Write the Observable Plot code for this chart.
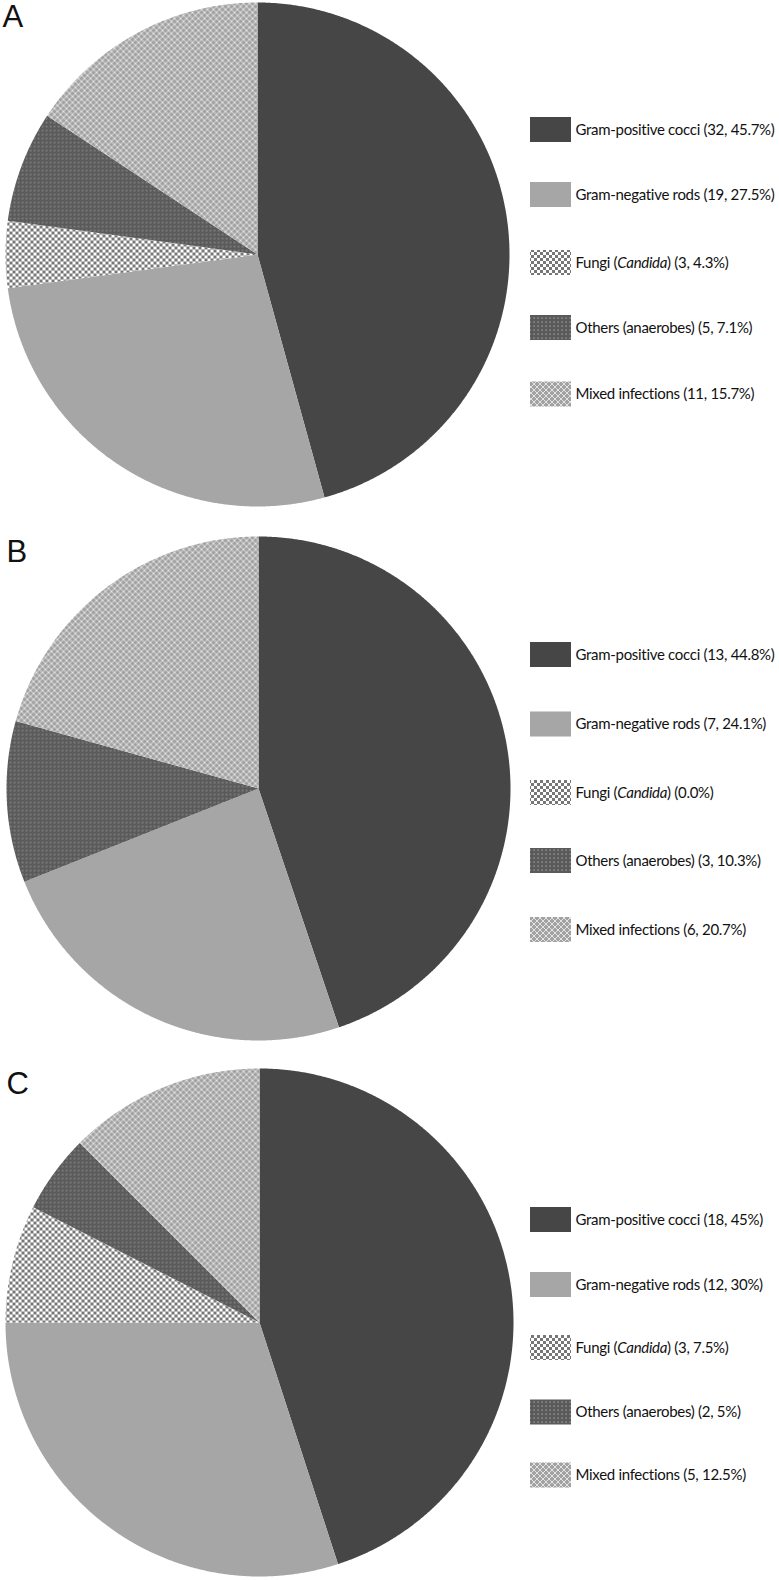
<!DOCTYPE html>
<html>
<head>
<meta charset="utf-8">
<script src="https://cdn.jsdelivr.net/npm/d3@7"></script>
<script src="https://cdn.jsdelivr.net/npm/@observablehq/plot@0.6"></script>
<style>
  html, body { margin: 0; padding: 0; background: #fff; }
  #chart svg { display: block; }
</style>
</head>
<body>
<svg width="0" height="0" style="position:absolute">
  <defs>
    <pattern id="p-fungi" width="6" height="6" patternUnits="userSpaceOnUse">
      <rect width="6" height="6" fill="#ffffff"/>
      <rect width="3" height="3" fill="#777777"/>
      <rect x="3" y="3" width="3" height="3" fill="#777777"/>
    </pattern>
    <pattern id="p-others" width="4" height="4" patternUnits="userSpaceOnUse">
      <rect width="4" height="4" fill="#5a5a5a"/>
      <rect x="1.5" y="1.5" width="1.2" height="1.2" fill="#b0b0b0"/>
    </pattern>
    <pattern id="p-mixed" width="6" height="6" patternUnits="userSpaceOnUse">
      <rect width="6" height="6" fill="#a2a2a2"/>
      <path d="M0,0L6,6M6,0L0,6" stroke="#f4f4f4" stroke-width="0.8"/>
    </pattern>
  </defs>
</svg>
<div id="chart"></div>
<script>
// ---- data ----
const categories = ["Gram-positive cocci", "Gram-negative rods", "Fungi (Candida)", "Others (anaerobes)", "Mixed infections"];
const panelNames = ["A", "B", "C"];
const countsA = [32, 19, 3, 5, 11];
const countsB = [13, 7, 0, 3, 6];
const countsC = [18, 12, 3, 2, 5];
const labelsA = ["(32, 45.7%)", "(19, 27.5%)", "(3, 4.3%)", "(5, 7.1%)", "(11, 15.7%)"];
const labelsB = ["(13, 44.8%)", "(7, 24.1%)", "(0.0%)", "(3, 10.3%)", "(6, 20.7%)"];
const labelsC = ["(18, 45%)", "(12, 30%)", "(3, 7.5%)", "(2, 5%)", "(5, 12.5%)"];

// ---- styles & layout ----
const fills = ["#464646", "#a6a6a6", "url(#p-fungi)", "url(#p-others)", "url(#p-mixed)"];
const layout = {
  A: {cx: 257, cy: 254, r: 252, lx: 2, ly: 17, rows: [129.5, 194.5, 262.5, 327.5, 394]},
  B: {cx: 258, cy: 788, r: 252, lx: 6, ly: 552, rows: [654.5, 724, 792.5, 860.5, 929.5]},
  C: {cx: 259, cy: 1322, r: 254, lx: 6, ly: 1084, rows: [1219.5, 1284.5, 1347.5, 1412, 1475]}
};
const W = 779, H = 1580;

const panels = [
  {name: "A", counts: countsA, labels: labelsA},
  {name: "B", counts: countsB, labels: labelsB},
  {name: "C", counts: countsC, labels: labelsC}
];

const pie = d3.pie().sort(null).value(d => d.count);
const wedgePoints = [];
const legendRows = [];
const letters = [];

for (const p of panels) {
  const L = layout[p.name];
  const rows = categories.map((c, i) => ({cat: c, count: p.counts[i], fill: fills[i], label: c + " " + p.labels[i], i}));
  for (const a of pie(rows)) {
    if (a.endAngle - a.startAngle <= 0) continue;
    const key = p.name + a.data.i;
    wedgePoints.push({key, fill: a.data.fill, x: L.cx, y: L.cy});
    const n = Math.max(2, Math.ceil((a.endAngle - a.startAngle) / 0.005));
    for (let k = 0; k <= n; k++) {
      const t = a.startAngle + (a.endAngle - a.startAngle) * k / n;
      wedgePoints.push({key, fill: a.data.fill, x: L.cx + L.r * Math.sin(t), y: L.cy - L.r * Math.cos(t)});
    }
  }
  rows.forEach((d, i) => legendRows.push({...d, y: L.rows[i]}));
  letters.push({text: p.name, x: L.lx, y: L.ly});
}

const chart = Plot.plot({
  width: W,
  height: H,
  margin: 0,
  x: {domain: [0, W], range: [0, W], axis: null},
  y: {domain: [0, H], range: [0, H], axis: null},
  color: {type: "identity"},
  style: {background: "#fff"},
  marks: [
    Plot.line(wedgePoints, {x: "x", y: "y", z: "key", fill: "fill", stroke: "none", curve: "linear"}),
    Plot.rect(legendRows, {x1: () => 530, x2: () => 571, y1: d => d.y - 12.5, y2: d => d.y + 12.5, fill: "fill"}),
    Plot.text(legendRows, {x: () => 575, y: "y", text: "label", textAnchor: "start", lineAnchor: "middle",
      fontSize: 15, fontFamily: "Lato, 'Open Sans', sans-serif", fill: "#111"}),
    Plot.text(letters, {x: "x", y: "y", text: "text", textAnchor: "start", lineAnchor: "middle",
      fontSize: 31, fontFamily: "'Liberation Sans', Arial, sans-serif", fill: "#111"})
  ]
});

// italicise the genus name; tighten legend text to match the narrow original face
chart.querySelectorAll("text").forEach(t => {
  const s = t.textContent;
  if (s.length > 2) t.style.letterSpacing = "-0.3px";
  if (s.includes("Candida")) {
    const [pre, post] = s.split("Candida");
    t.textContent = "";
    const ns = "http://www.w3.org/2000/svg";
    const a = document.createElementNS(ns, "tspan"); a.textContent = pre;
    const b = document.createElementNS(ns, "tspan"); b.textContent = "Candida"; b.setAttribute("font-style", "italic");
    const c = document.createElementNS(ns, "tspan"); c.textContent = post;
    t.append(a, b, c);
  }
});

document.getElementById("chart").appendChild(chart);
</script>
</body>
</html>
